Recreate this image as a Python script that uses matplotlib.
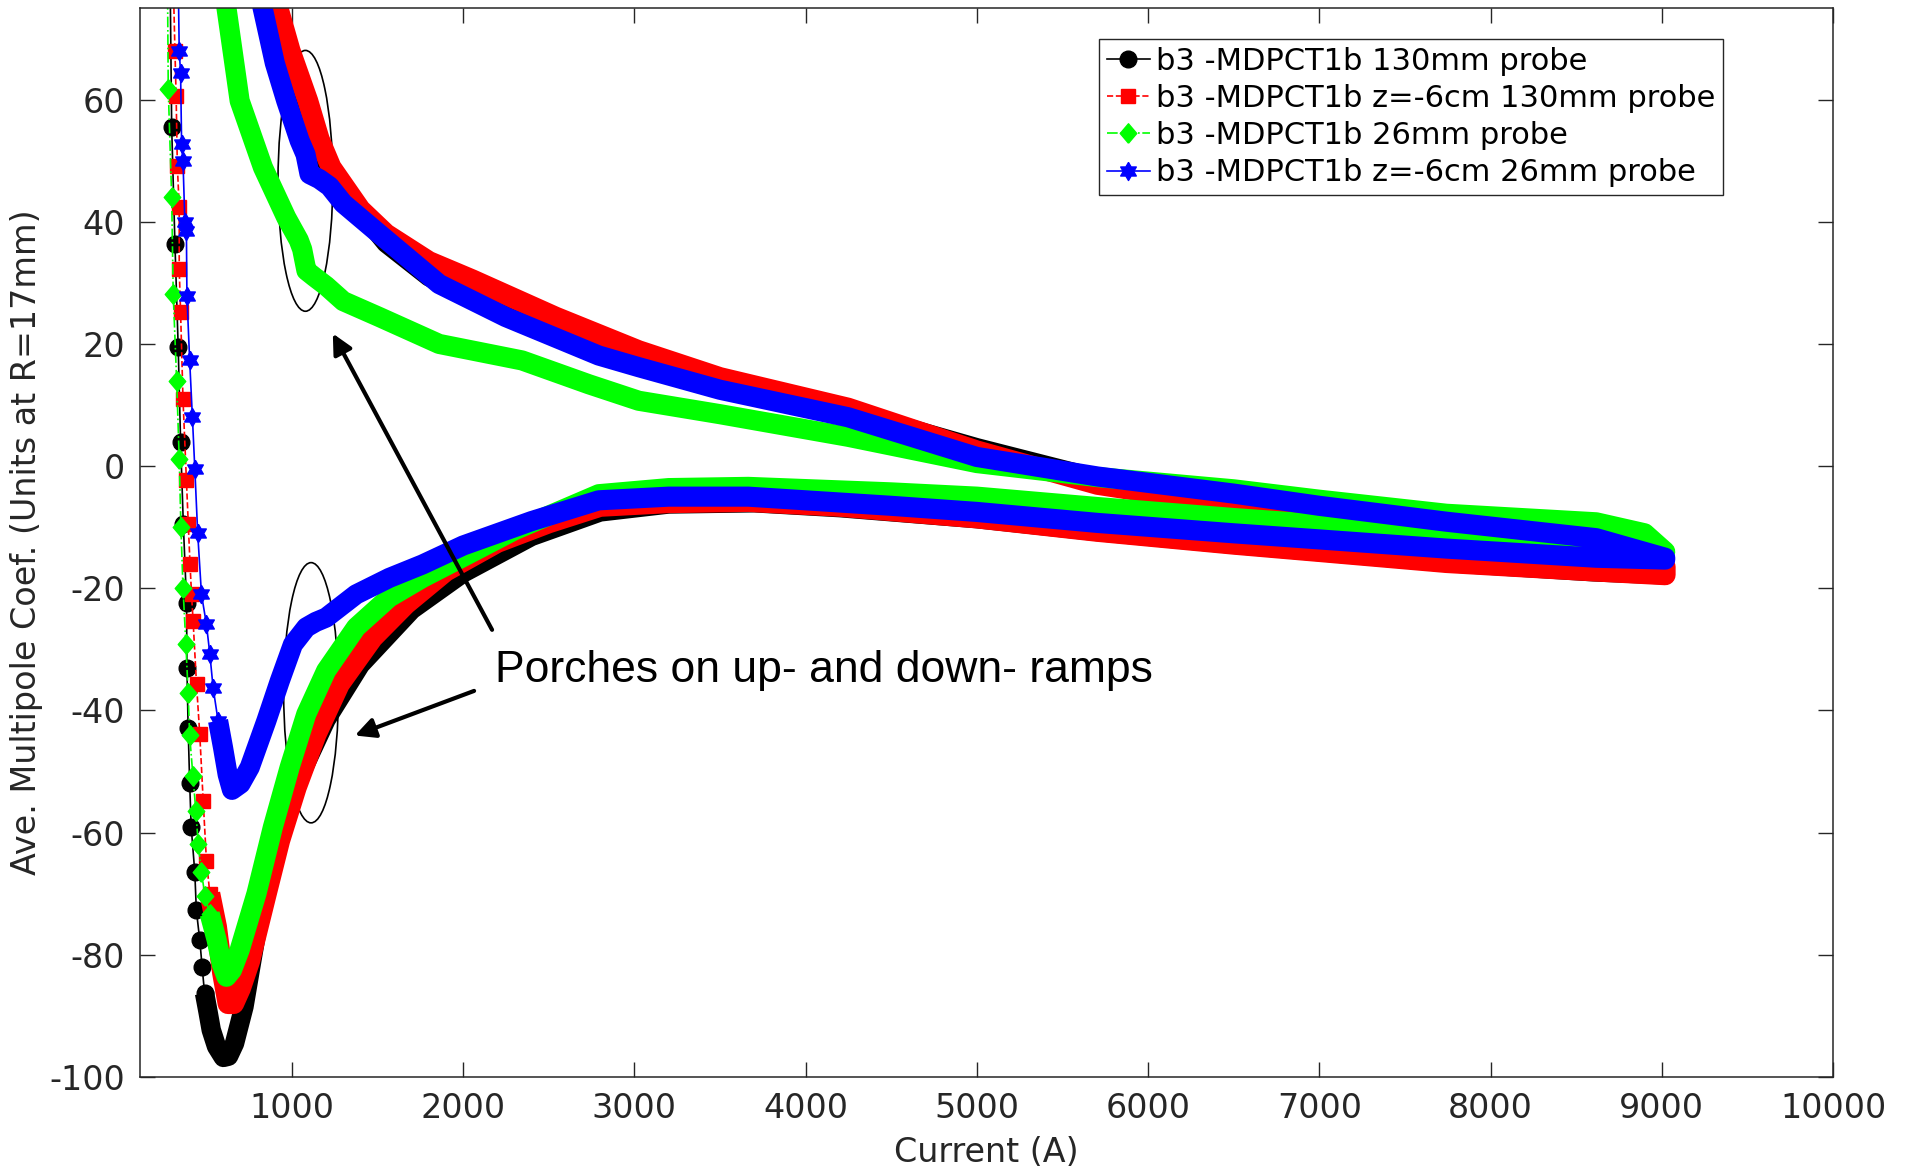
import matplotlib
matplotlib.use('Agg')
from matplotlib import pyplot as plt, rcParams
from matplotlib.patches import Ellipse
import numpy as np

rcParams['axes.unicode_minus'] = False
rcParams['font.family'] = ['DejaVu Sans']

AXIS_COLOR = '#262626'

# b3 -MDPCT1b 130mm probe (black)
blk_fall_i = [288, 298, 317, 336, 350, 366, 385, 387, 394, 403, 412, 433, 442, 462, 476, 490]
blk_fall_b3 = [82, 55.5, 36.4, 19.5, 4.0, -9.5, -22.4, -33.0, -42.8, -51.8, -59.1, -66.5, -72.7, -77.6, -82.0, -86.3]
blk_up_i = [490, 510, 529, 560, 600, 630, 665, 720, 793, 870, 950, 1050, 1200, 1400, 1700, 2000,
            2400, 2800, 3200, 3700, 4200, 5000, 5700, 6500, 7000, 7750, 8600, 9020]
blk_up_b3 = [-86.3, -89.3, -92.3, -95.0, -96.8, -96.6, -94.5, -88.5, -76.5, -66.5, -58.5, -50.5, -41.5, -32.5,
             -23.5, -17.5, -11.5, -7.5, -6.2, -6.0, -6.8, -8.6, -10.7, -12.8, -14.0, -15.8, -17.3, -17.8]
blk_dn_i = [9020, 8600, 7750, 7000, 6500, 5700, 5000, 4250, 3500, 3000, 2500, 2000, 1800, 1550, 1230, 1090, 990, 905, 860]
blk_dn_b3 = [-17.0, -13.0, -10.5, -8.0, -6.0, -2.0, 3.0, 9.0, 14.0, 17.6, 22.8, 28.3, 31.0, 36.5, 47.5, 58.5, 67.0, 75.5, 82.0]

# b3 -MDPCT1b z=-6cm 130mm probe (red)
red_fall_i = [305, 317, 324, 331, 342, 342, 350, 364, 384, 395, 405, 414, 423, 443, 462, 482, 501, 521]
red_fall_b3 = [82, 68.0, 60.6, 49.2, 42.4, 32.3, 25.2, 11.0, -2.3, -9.5, -16.0, -21.0, -25.3, -35.7, -43.9, -54.8, -64.6, -70.0]
red_up_i = [521, 560, 595, 627, 660, 700, 754, 851, 929, 1026, 1142, 1278, 1472, 1666, 1899, 2200,
            2500, 2800, 3200, 3665, 4200, 5000, 5705, 6500, 7000, 7742, 8617, 9020]
red_up_b3 = [-70.0, -75.4, -83.0, -88.0, -88.0, -85.5, -81.0, -70.0, -61.3, -52.6, -43.9, -35.7, -28.1, -22.6,
             -17.2, -12.5, -9.3, -6.6, -6.0, -5.8, -6.6, -8.5, -10.7, -12.8, -14.0, -15.8, -17.2, -17.8]
red_dn_i = [9020, 8617, 7742, 7000, 6400, 5705, 5000, 4248, 3500, 3025, 2540, 2054, 1800, 1550, 1400, 1229, 1160, 1093, 990, 909, 860]
red_dn_b3 = [-16.5, -14.0, -11.5, -8.5, -6.0, -3.0, 2.5, 9.5, 14.5, 18.9, 24.4, 30.5, 33.5, 38.0, 42.0, 48.9, 53.5, 59.8, 68.0, 76.0, 82.0]

# b3 -MDPCT1b 26mm probe (green)
grn_fall_i = [272, 278, 298, 307, 327, 342, 352, 364, 381, 394, 403, 422, 439, 453, 472, 492, 520]
grn_fall_b3 = [85, 61.7, 44.0, 28.2, 14.0, 1.2, -10.0, -19.9, -29.2, -37.1, -44.1, -50.7, -56.4, -61.9, -66.5, -70.3, -73.3]
grn_up_i = [520, 560, 590, 618, 650, 695, 793, 889, 987, 1084, 1200, 1375, 1569, 1763, 1957, 2300,
            2792, 3200, 3665, 4500, 5000, 5705, 6500, 7000, 7742, 8617, 9020]
grn_up_b3 = [-73.3, -77.5, -81.5, -83.6, -82.5, -79.2, -70.0, -59.1, -49.3, -40.6, -33.5, -26.4, -21.5, -18.3,
             -15.5, -10.5, -4.6, -3.6, -3.4, -4.3, -5.0, -6.7, -8.5, -9.5, -11.8, -13.2, -14.0]
grn_dn_i = [9020, 8900, 8617, 7742, 7000, 6500, 5705, 5000, 4248, 3500, 3025, 2734, 2344, 1860, 1511,
            1300, 1200, 1130, 1085, 1060, 1040, 967, 831, 695, 618, 570]
grn_dn_b3 = [-14.0, -11.0, -9.2, -7.8, -5.5, -3.8, -1.8, 0.5, 4.8, 8.5, 10.7, 13.4, 17.3, 20.0, 24.4,
             27.0, 29.5, 31.0, 32.0, 35.5, 37.0, 40.7, 48.9, 59.8, 75.0, 85.0]

# b3 -MDPCT1b z=-6cm 26mm probe (blue)
blu_fall_i = [335, 342, 350, 356, 364, 375, 384, 387, 403, 419, 433, 450, 472, 501, 521, 540, 569]
blu_fall_b3 = [82, 68.0, 64.4, 52.7, 50.0, 39.9, 38.5, 27.9, 17.3, 8.0, -0.4, -11.0, -21.0, -25.9, -30.8, -36.3, -41.7]
blu_up_i = [569, 598, 625, 650, 700, 754, 851, 929, 1006, 1084, 1140, 1200, 1375, 1569, 1763, 2000,
            2400, 2792, 3200, 3665, 4500, 5000, 5705, 6500, 7000, 7742, 8617, 9020]
blu_up_b3 = [-41.7, -46.1, -50.5, -53.0, -52.0, -49.3, -41.7, -35.2, -29.2, -26.4, -25.5, -24.8, -21.0, -18.3,
             -16.1, -13.0, -9.0, -5.6, -5.0, -5.0, -6.5, -7.5, -9.3, -11.0, -12.0, -13.5, -15.0, -15.3]
blu_dn_i = [9020, 8617, 7742, 7000, 6500, 5705, 5000, 4248, 3500, 3025, 2792, 2249, 1860, 1511, 1300,
            1220, 1160, 1103, 1080, 1045, 967, 900, 829, 780]
blu_dn_b3 = [-15.0, -11.8, -9.1, -6.5, -4.5, -1.7, 1.5, 8.0, 12.5, 16.2, 18.1, 24.4, 29.8, 38.0, 43.0,
             45.8, 47.0, 47.8, 51.0, 53.3, 59.8, 66.0, 75.0, 82.0]

labels = ['b3 -MDPCT1b 130mm probe', 'b3 -MDPCT1b z=-6cm 130mm probe',
          'b3 -MDPCT1b 26mm probe', 'b3 -MDPCT1b z=-6cm 26mm probe']
x_ticks = [1000, 2000, 3000, 4000, 5000, 6000, 7000, 8000, 9000, 10000]
y_ticks = [-100, -80, -60, -40, -20, 0, 20, 40, 60]

# MATLAB-like diamond (taller than wide) and six-pointed hexagram markers
diamond = [(0, -1), (0.85, 0), (0, 1), (-0.85, 0), (0, -1)]
ang = np.pi / 2 + np.arange(12) * np.pi / 6
rad = np.where(np.arange(12) % 2 == 0, 1.0, 0.58)
hexagram = np.column_stack([rad * np.cos(ang), rad * np.sin(ang)])
hexagram = np.vstack([hexagram, hexagram[:1]])

fig = plt.figure(figsize=(19.1, 11.71), dpi=100)
ax = fig.add_axes([0.0733, 0.0803, 0.8864, 0.9129])

series = [
    (blk_fall_i, blk_fall_b3, blk_up_i + blk_dn_i, blk_up_b3 + blk_dn_b3, 'black', 'o', 12, '-', 14),
    (red_fall_i, red_fall_b3, red_up_i + red_dn_i, red_up_b3 + red_dn_b3, 'red', 's', 10.5, '--', 15),
    (grn_fall_i, grn_fall_b3, grn_up_i + grn_dn_i, grn_up_b3 + grn_dn_b3, '#00ff00', diamond, 14, '-.', 14.5),
    (blu_fall_i, blu_fall_b3, blu_up_i + blu_dn_i, blu_up_b3 + blu_dn_b3, 'blue', hexagram, 13, '-', 14.5),
]

handles = []
for (fi, fb, li, lb, color, marker, ms, ls, band), label in zip(series, labels):
    # dense ramp data merges into a solid band of markers
    ax.plot(li, lb, color=color, lw=band, solid_joinstyle='round', solid_capstyle='butt')
    h, = ax.plot(fi, fb, color=color, ls=ls, lw=1.2, marker=marker, ms=ms,
                 mfc=color, mec=color, label=label)
    handles.append(h)

# porch highlights
ax.add_patch(Ellipse((1079, 46.7), 320, 42.7, fill=False, ec='black', lw=1.2))
ax.add_patch(Ellipse((1112, -37.1), 320, 42.6, fill=False, ec='black', lw=1.2))
arrow = dict(arrowstyle='-|>', lw=3, color='black', mutation_scale=30, shrinkA=0, shrinkB=0)
ax.annotate('', xy=(1239, 21.7), xytext=(2169, -26.8), arrowprops=arrow)
ax.annotate('', xy=(1368, -44.1), xytext=(2064, -36.8), arrowprops=arrow)
ax.text(2186, -33.5, 'Porches on up- and down- ramps', fontsize=32,
        family=['Liberation Sans', 'DejaVu Sans'], va='center', ha='left')

ax.set_xlim(113, 10000)
ax.set_ylim(-100, 75)
ax.set_xticks(x_ticks, [str(t) for t in x_ticks])
ax.set_yticks(y_ticks, [str(t) for t in y_ticks])
ax.tick_params(direction='in', top=True, right=True, length=11, width=1,
               colors=AXIS_COLOR, labelsize=24, pad=11)
for sp in ax.spines.values():
    sp.set_color(AXIS_COLOR)
    sp.set_linewidth(1.1)

ax.set_xlabel('Current (A)', fontsize=24, color=AXIS_COLOR, labelpad=8)
ax.set_ylabel('Ave. Multipole Coef. (Units at R=17mm)', fontsize=24, color=AXIS_COLOR, labelpad=4)

leg = ax.legend(handles=handles, loc='upper left', bbox_to_anchor=(0.5665, 0.971), fontsize=22,
                frameon=True, fancybox=False, framealpha=1, edgecolor=AXIS_COLOR,
                borderpad=0.25, labelspacing=0.27, handlelength=1.4, handletextpad=0.2,
                borderaxespad=0)
leg.get_frame().set_linewidth(1.0)

fig.savefig('out.png', dpi=100)
